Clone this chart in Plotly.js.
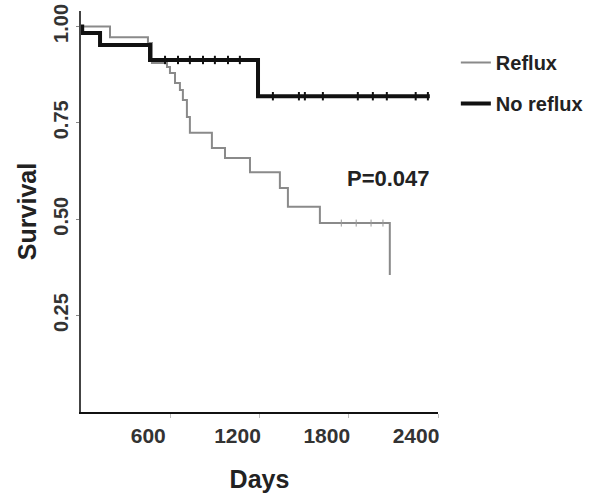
<!DOCTYPE html>
<html><head><meta charset="utf-8">
<script src="https://cdn.plot.ly/plotly-3.0.1.min.js"></script>
<style>html,body{margin:0;padding:0;background:#fff}#c{width:611px;height:494px}</style>
</head><body><div id="c"></div>
<script>
// Reflux group (Kaplan-Meier steps)
const refluxDays = [0, 195, 450, 477, 578, 598, 632, 665, 685, 712, 732, 880, 968, 1136, 1337, 1391, 1606, 2076];
const refluxSurv = [1.0, 0.972, 0.957, 0.905, 0.895, 0.879, 0.853, 0.835, 0.809, 0.765, 0.724, 0.685, 0.659, 0.622, 0.581, 0.532, 0.490, 0.355];
const refluxCensDays = [1750, 1850, 1950, 2030];
const refluxCensSurv = [0.490, 0.490, 0.490, 0.490];
// No reflux group
const noRefluxDays = [0, 8, 128, 464, 1190, 2345];
const noRefluxSurv = [1.0, 0.983, 0.952, 0.913, 0.819, 0.819];
const noRefluxCensDays = [565, 652, 732, 820, 900, 988, 1068, 1290, 1465, 1505, 1626, 1861, 1962, 2056, 2250, 2332];
const noRefluxCensSurv = [0.913, 0.913, 0.913, 0.913, 0.913, 0.913, 0.913, 0.819, 0.819, 0.819, 0.819, 0.819, 0.819, 0.819, 0.819, 0.819];
const xTicks = [600, 1200, 1800, 2400];
const yTicks = [0.25, 0.50, 0.75, 1.00];
const yTickText = ["0.25", "0.50", "0.75", "1.00"];
const legendNames = ["Reflux", "No reflux"];
const pText = "P=0.047";

const FONT = "Liberation Sans, Arial, sans-serif";
const traces = [
  {x: refluxDays, y: refluxSurv, mode: "lines", line: {shape: "hv", color: "#8a8a8a", width: 2},
   name: legendNames[0], legendgroup: "a", showlegend: true},
  {x: noRefluxDays, y: noRefluxSurv, mode: "lines", line: {shape: "hv", color: "#111", width: 4},
   name: legendNames[1], legendgroup: "b", showlegend: true},
  {x: refluxCensDays, y: refluxCensSurv, mode: "markers", showlegend: false, hoverinfo: "skip",
   marker: {symbol: "line-ns", size: 5, line: {width: 1, color: "#999"}}},
  {x: noRefluxCensDays, y: noRefluxCensSurv, mode: "markers", showlegend: false, hoverinfo: "skip",
   marker: {symbol: "line-ns", size: 6, line: {width: 2, color: "#111"}}}
];
const layout = {
  width: 611, height: 494,
  margin: {l: 81, r: 173, t: 11, b: 82},
  paper_bgcolor: "#fff", plot_bgcolor: "#fff",
  font: {family: FONT, color: "#222"},
  showlegend: true,
  legend: {x: 1.05, y: 0.92, xanchor: "left", yanchor: "top", tracegroupgap: 12,
           font: {size: 20, family: FONT, weight: "bold", color: "#222"}, bgcolor: "rgba(0,0,0,0)"},
  xaxis: {range: [0, 2400], tickvals: xTicks, ticktext: xTicks.map(String),
          showgrid: false, zeroline: false, showline: true, linecolor: "#111", linewidth: 2,
          ticks: "outside", ticklen: 4, tickcolor: "#bbb", ticklabelshift: -22,
          tickfont: {size: 21, family: FONT, weight: "bold", color: "#333"},
          title: {text: "Days", font: {size: 25, family: FONT, weight: "bold", color: "#222"}, standoff: 24}},
  yaxis: {range: [0, 1.04], tickvals: yTicks, ticktext: yTickText, tickangle: -90,
          showgrid: false, zeroline: false, showline: true, linecolor: "#444", linewidth: 2,
          ticks: "outside", ticklen: 3, tickcolor: "#888",
          tickfont: {size: 20, family: FONT, weight: "bold", color: "#333"},
          title: {text: "Survival", font: {size: 25, family: FONT, weight: "bold", color: "#222"}, standoff: 6}},
  annotations: [{xref: "paper", yref: "paper", x: 0.86, y: 0.583, xanchor: "center", yanchor: "middle",
                 text: pText, showarrow: false,
                 font: {size: 22, family: FONT, weight: "bold", color: "#222"}}]
};
Plotly.newPlot("c", traces, layout, {staticPlot: true, displayModeBar: false});
</script></body></html>
